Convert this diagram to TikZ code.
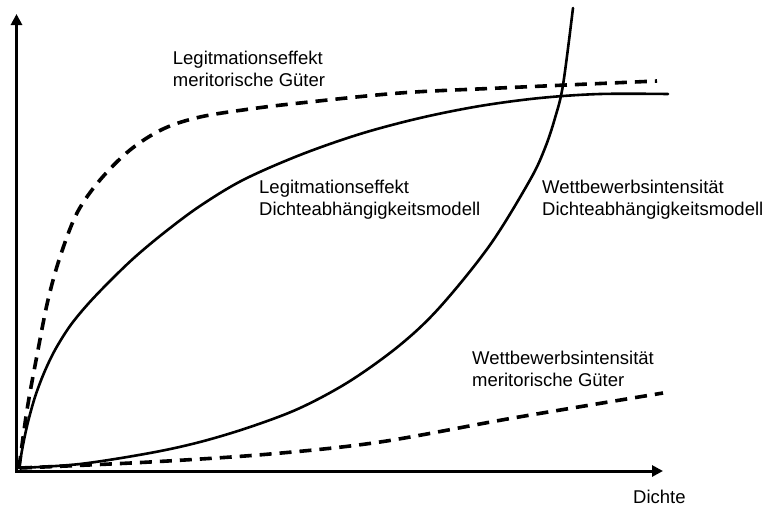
\documentclass[tikz,border=0pt]{standalone}
\usepackage{fontspec}
\setmainfont{Liberation Sans}
\usetikzlibrary{arrows.meta}
\tikzset{
  axis/.style={line width=3pt, -{Triangle[length=11pt,width=11pt]}},
  solidcurve/.style={line width=2.6pt, line cap=round},
  dashcurve/.style={line width=3.6pt, dash pattern=on 12pt off 8pt},
  lbl/.style={anchor=base west, align=left, inner sep=0pt, font=\fontsize{18.5}{22}\selectfont}
}
\begin{document}
\begin{tikzpicture}[x=1pt,y=-1pt]
\useasboundingbox (0,0) rectangle (765,506);
\coordinate (O) at (16.5,471);
\coordinate (ytip) at (16.5,14);
\coordinate (xtip) at (663,471);
\draw[axis] (16.5,472.5) -- (ytip);
\draw[axis] (15,471) -- (xtip);
% Legitmationseffekt Dichteabhaengigkeitsmodell (solid)
\draw[solidcurve] plot[smooth, tension=0.55] coordinates {(19,468) (23,445) (28,422) (35,397) (44,373) (55,350) (70,326) (88,304) (110,281) (135,257) (165,232) (200,206) (243,180) (300,155) (360,134) (420,118) (480,106) (540,98) (600,94) (668,94)};
% Legitmationseffekt meritorische Gueter (dashed)
\draw[dashcurve] plot[smooth, tension=0.55] coordinates {(19,468) (27,410) (38,350) (48,300) (60,257) (77,213) (100,180) (130,150) (163,129) (200,117) (250,109) (300,103) (400,93) (500,88) (657,81)};
% Wettbewerbsintensitaet Dichteabhaengigkeitsmodell (solid)
\draw[solidcurve] plot[smooth, tension=0.55] coordinates {(19,468) (80,464) (150,453) (200,442) (250,427) (300,408) (350,381) (400,345) (440,307) (490,245) (530,180) (545,148) (555,118) (563,85) (573,8)};
% Wettbewerbsintensitaet meritorische Gueter (dashed)
\draw[dashcurve] plot[smooth, tension=0.55] coordinates {(20,468) (150,462) (270,454) (380,442) (513,418) (663,393)};
\node[lbl] (lmg) at (172.7,86.7) {Legitmationseffekt\\meritorische Güter};
\node[lbl] (ldam) at (259,215.5) {Legitmationseffekt\\Dichteabhängigkeitsmodell};
\node[lbl] (wdam) at (542,215.5) {Wettbewerbsintensität\\Dichteabhängigkeitsmodell};
\node[lbl] (wmg) at (472,386) {Wettbewerbsintensität\\meritorische Güter};
\node[lbl] (dichte) at (633,503) {Dichte};
\end{tikzpicture}
\end{document}
